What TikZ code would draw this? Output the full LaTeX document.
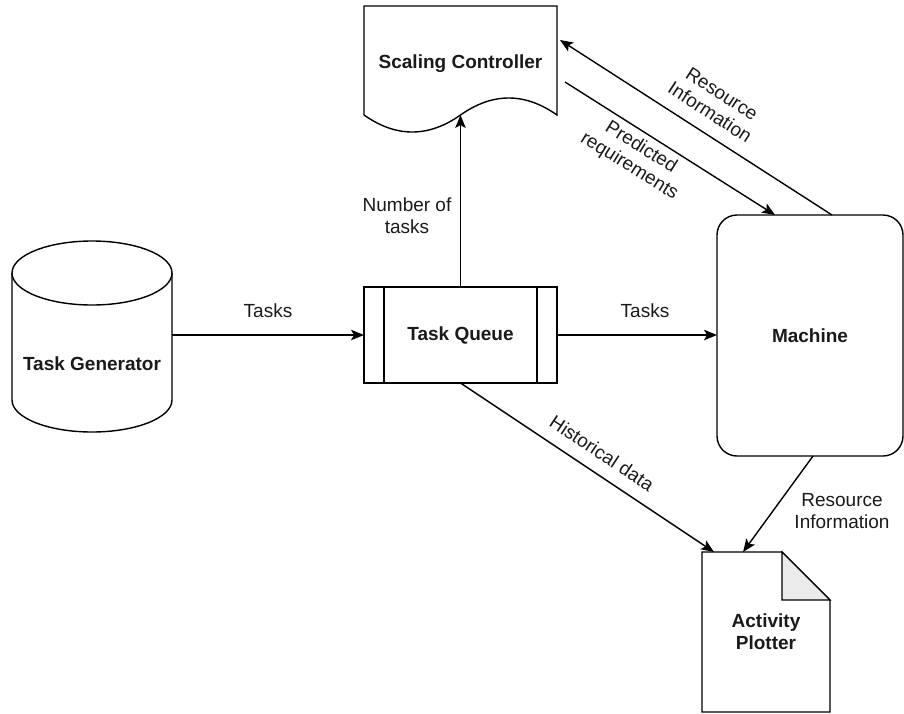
\documentclass[tikz,border=0pt]{standalone}
\usepackage{fontspec}
\setmainfont{Liberation Sans}
\usetikzlibrary{arrows.meta,calc}
\definecolor{txt}{RGB}{26,26,26}
\definecolor{foldgray}{RGB}{235,235,235}

\begin{document}
\begin{tikzpicture}[x=1pt,y=-1pt,
  line width=1.4pt,
  every node/.style={font=\fontsize{19}{22}\selectfont, text=txt, outer sep=0pt},
  title/.style={font=\fontsize{19}{22}\selectfont\bfseries, align=center},
  lbl/.style={align=center, inner sep=0pt},
  flow/.style={draw=black, -{Stealth[length=13pt,width=10.5pt,inset=3pt]}}
]
\useasboundingbox (0,0) rectangle (904,713);

% Task Generator (cylinder)
\node[minimum width=160pt, minimum height=191pt] (tg) at (92,336.5) {};
\draw ([yshift=-32pt]tg.north) ellipse [x radius=80pt, y radius=32pt];
\draw ([yshift=-32pt]tg.north west) -- ([yshift=32pt]tg.south west)
  arc[start angle=180, end angle=360, x radius=80pt, y radius=32pt]
  -- ([yshift=-32pt]tg.north east);
\node[title] (tgt) at (92,364) {Task Generator};

% Task Queue (process box)
\node[draw, minimum width=193pt, minimum height=96pt, title] (tq) at (460.5,335) {Task Queue};
\draw ([xshift=20pt]tq.north west) -- ([xshift=20pt]tq.south west);
\draw ([xshift=-20pt]tq.north east) -- ([xshift=-20pt]tq.south east);

% Scaling Controller (document shape)
\node[minimum width=193pt, minimum height=109pt] (sc) at (460.5,60.5) {};
\draw (sc.south west) -- (sc.north west) -- (sc.north east) -- (sc.south east)
  .. controls +(-32.17,-22.67) and +(32.17,-22.67) .. (sc.south)
  .. controls +(-32.17,22.67) and +(32.17,22.67) .. (sc.south west);
\node[title] (sct) at (460.5,64) {Scaling Controller};

% Machine
\node[draw, rounded corners=20pt, minimum width=186pt, minimum height=241pt, title] (mc) at (810,335.5) {Machine};

% Activity Plotter (note with folded corner)
\node[minimum width=128pt, minimum height=160pt, title] (ap) at (766,632) {Activity\\Plotter};
\draw (ap.north west) -- ([xshift=-48pt]ap.north east) -- ([yshift=-48pt]ap.north east)
  -- (ap.south east) -- (ap.south west) -- cycle;
\draw[fill=foldgray] ([xshift=-48pt]ap.north east) -- ([xshift=-48pt,yshift=-48pt]ap.north east)
  -- ([yshift=-48pt]ap.north east) -- cycle;

% Connectors
\draw[flow] (tg.east |- tq.west) -- (tq.west);
\draw[flow] (tq.east) -- (mc.west |- tq.east);
\draw[flow] (tq.north) -- (sc.south);
\draw[flow] ([shift={(8pt,-76pt)}]sc.north east) -- ([xshift=58pt]mc.north west);
\draw[flow] ([xshift=115pt]mc.north west) -- ([shift={(3pt,-34pt)}]sc.north east);
\draw[flow] (tq.south) -- ([xshift=12pt]ap.north west);
\draw[flow] ([xshift=3pt]mc.south) -- ([xshift=41pt]ap.north west);

% Connector labels
\node[lbl] (l1) at (268,311) {Tasks};
\node[lbl] (l2) at (645,311) {Tasks};
\node[lbl] (l3) at (407,216) {Number of\\tasks};
\node[lbl, rotate=-32] (l4) at (635,157) {Predicted\\requirements};
\node[lbl, rotate=-33] (l5) at (716,103) {Resource\\Information};
\node[lbl, rotate=-33.5] (l6) at (602,453) {Historical data};
\node[lbl] (l7) at (842,511) {Resource\\Information};
\end{tikzpicture}
\end{document}
